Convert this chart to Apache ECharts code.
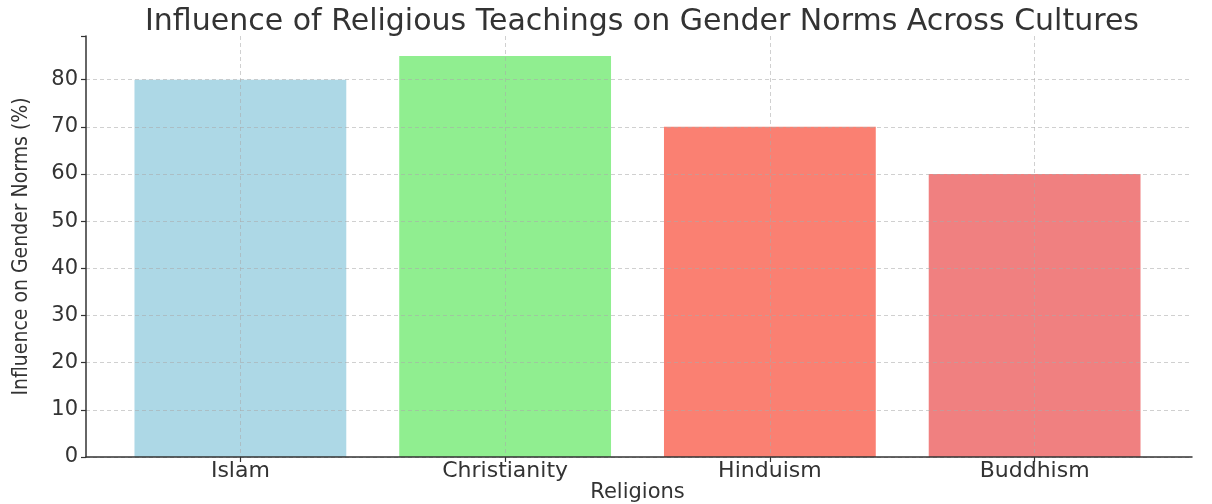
<!DOCTYPE html>
<html>
<head>
<meta charset="utf-8">
<script src="https://cdn.jsdelivr.net/npm/echarts@6/dist/echarts.min.js"></script>
<style>
  html, body { margin: 0; padding: 0; background: #fff; }
  #chart { width: 1212px; height: 504px; }
</style>
</head>
<body>
<div id="chart"></div>
<script>
const religions = ['Islam', 'Christianity', 'Hinduism', 'Buddhism']
const influence = [80, 85, 70, 60]
const barColors = ['#add8e6', '#90ee90', '#fa8072', '#f08080']
const yMax = 89.25

const gridColor = 'rgba(170,170,170,0.55)'
const axisColor = '#333'
const font = 'DejaVu Sans'

// one split line per tick (0..80 plus the top extent, which stays hidden)
const yLineColors = [0, 10, 20, 30, 40, 50, 60, 70, 80].map(() => gridColor).concat(['transparent'])

const chart = echarts.init(document.getElementById('chart'))
chart.setOption({
  animation: false,
  title: {
    text: 'Influence of Religious Teachings on Gender Norms Across Cultures',
    left: 637, top: 2, textAlign: 'center',
    textStyle: { fontFamily: font, fontSize: 30, fontWeight: 'normal', color: '#333' },
  },
  grid: [
    // full plot area: spines and horizontal grid
    { left: 86, right: 20, top: 36, bottom: 47, outerBoundsMode: 'none' },
    // bar bands (matplotlib-style margins inside the plot area)
    { left: 108, right: 45, top: 36, bottom: 47, outerBoundsMode: 'none' },
  ],
  xAxis: [
    {
      gridIndex: 0, type: 'value', min: 0, max: 1, z: 3,
      axisLine: { show: true, lineStyle: { color: axisColor, width: 1.5 } },
      axisTick: { show: false }, axisLabel: { show: false }, splitLine: { show: false },
    },
    {
      gridIndex: 1, type: 'category', data: religions, z: 3,
      name: 'Religions', nameLocation: 'middle', nameGap: 25, nameMoveOverlap: false,
      nameTextStyle: { fontFamily: font, fontSize: 21, color: '#333' },
      axisLine: { show: false },
      axisTick: { show: true, alignWithLabel: true, length: 5, lineStyle: { color: axisColor, width: 1.2 } },
      axisLabel: { fontFamily: font, fontSize: 22, color: '#333', margin: 3 },
      splitLine: { show: true, alignWithLabel: true, lineStyle: { color: gridColor, type: [4, 3], width: 1 } },
    },
  ],
  yAxis: [
    {
      gridIndex: 0, type: 'value', min: 0, max: yMax, interval: 10, z: 3,
      name: 'Influence on Gender Norms (%)', nameLocation: 'middle', nameGap: 54, nameMoveOverlap: false,
      nameTextStyle: { fontFamily: 'DejaVu Sans Condensed', fontSize: 21, color: '#333' },
      axisLine: { show: true, lineStyle: { color: axisColor, width: 1.5 } },
      axisTick: { show: true, length: 5, lineStyle: { color: axisColor, width: 1.2 } },
      axisLabel: {
        fontFamily: font, fontSize: 21, color: '#333', margin: 8,
        formatter: v => (v % 10 === 0 ? String(v) : ''),
      },
      splitLine: { show: true, lineStyle: { color: yLineColors, type: [4, 3], width: 1 } },
    },
    { gridIndex: 1, type: 'value', min: 0, max: yMax, show: false },
  ],
  series: [{
    type: 'bar',
    xAxisIndex: 1, yAxisIndex: 1,
    barWidth: '80%',
    data: influence.map((v, i) => ({ value: v, itemStyle: { color: barColors[i] } })),
  }],
})
</script>
</body>
</html>
